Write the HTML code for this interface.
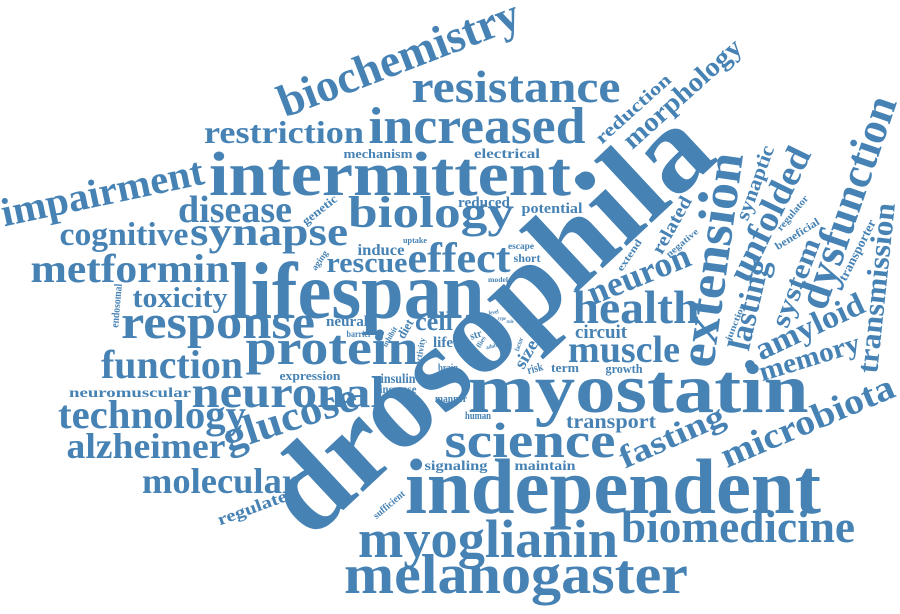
<!DOCTYPE html>
<html><head><meta charset="utf-8"><title>Word cloud</title>
<style>
html,body{margin:0;padding:0;background:#fff;}
svg{display:block;}
text{font-family:"Liberation Serif",serif;font-weight:bold;fill:#4682b4;}
</style></head>
<body>
<svg id="cloud" width="900" height="614" viewBox="0 0 900 614" xmlns="http://www.w3.org/2000/svg"></svg>
<script>
// word, baseline-center x, baseline-center y, font size, rotation, text length
const words = [
["drosophila",515,350,122,-43,560],
["myostatin",638,412,70,0,341],
["independent",613,513,78,0,416],
["lifespan",357,318,80,0,255],
["intermittent",390,195,62,0,362],
["melanogaster",516,593,56,0,344],
["myoglianin",488,557,54,0,260],
["biomedicine",738,542,46,0,234],
["science",530,457,50,0,171],
["protein",332,364,50,0,173],
["neuronal",288,407,44,0,193],
["response",218,338,48,0,194],
["increased",477,143,52,0,217],
["resistance",516,102,46,0,209],
["biochemistry",404,72,46,-21,255],
["restriction",284,143,32,0,160],
["impairment",105,205,40,-12,206],
["disease",235,222,38,0,114],
["biology",431,227,44,0,166],
["cognitive",124,245,33,0,129],
["synapse",269,245,40,0,158],
["metformin",130,282,40,0,199],
["rescue",367,272,29,0,81],
["effect",459,272,42,0,103],
["toxicity",180,307,28,0,95],
["function",172,378,40,0,142],
["technology",152,428,40,0,188],
["alzheimer",146,458,36,0,159],
["glucose",294,430,42,-18,139],
["molecular",220,493,36,0,156],
["neuromuscular",130,397,14,0,122],
["regulate",254,513,17,-20,73],
["health",636,323,47,0,127],
["neuron",643,285,35,-22,108],
["muscle",624,362,38,0,112],
["circuit",601,338,19,0,52],
["growth",624,373,13,0,37],
["term",565,372,13,0,28],
["transport",611,428,20,0,90],
["extension",728,262,52,-82,216],
["lasting",759,307,32,-77,92],
["unfolded",780,219,36,-64,145],
["dysfunction",861,207,45,-71,222],
["system",804,286,28,-69,93],
["amyloid",814,336,32,-25,117],
["memory",812,366,28,-17,104],
["transmission",886,289,30,-84,171],
["microbiota",812,432,36,-23,185],
["fasting",676,446,32,-24,112],
["morphology",688,100,27,-42,150],
["reduction",637,113,18,-42,95],
["synaptic",761,185,20,-70,78],
["transporter",861,252,13,-63,67],
["beneficial",799,237,11,-32,50],
["regulator",795,215,10,-50,43],
["junction",738,323,9,-68,40],
["related",677,228,19,-61,63],
["negative",684,245,9,-40,39],
["extend",632,257,10,-56,36],
["mechanism",378,158,13,0,69],
["electrical",507,158,14,0,66],
["reduced",484,207,15,0,52],
["potential",552,213,15,0,61],
["genetic",322,213,12,-38,41],
["uptake",415,243,8,0,24],
["induce",381,255,16,0,47],
["escape",521,249,9,0,26],
["short",527,262,12,0,27],
["aging",322,262,9,-55,22],
["model",498,282,7,0,20],
["endosomal",120,306,11,-85,44],
["neural",347,326,15,0,42],
["barrier",359,337,9,0,25],
["inhibit",392,338,8,-60,22],
["diet",409,331,13,-60,20],
["cell",434,330,26,0,38],
["life",443,347,15,0,20],
["activity",423,352,9,-80,28],
["str",477,338,11,-20,12],
["flies",483,343,7,-60,12],
["adult",492,348,6,-15,11],
["level",494,314,6,-10,10],
["type",502,320,5,0,8],
["rule",510,323,5,0,7],
["factor",521,345,7,-70,14],
["size",531,357,18,-60,30],
["risk",536,372,12,-15,16],
["brain",448,371,11,0,20],
["expression",310,380,13,0,61],
["insulin",398,383,14,0,35],
["increase",398,393,12,0,37],
["manner",451,402,11,0,32],
["human",478,419,10,0,26],
["signaling",456,470,14,0,63],
["maintain",545,470,14,0,61],
["sufficient",391,507,10,-40,38]
];
// stray dots seen in the cloud
const dots = [[581,180,6],[703,197,5],[750,365,5],[379,337,4]];

const svg = document.getElementById('cloud');
const NS = 'http://www.w3.org/2000/svg';
for (const w of words) {
  const t = document.createElementNS(NS, 'text');
  t.setAttribute('x', w[1]);
  t.setAttribute('y', w[2]);
  t.setAttribute('font-size', w[3]);
  t.setAttribute('text-anchor', 'middle');
  t.setAttribute('textLength', w[5]);
  t.setAttribute('lengthAdjust', 'spacingAndGlyphs');
  if (w[4]) t.setAttribute('transform', 'rotate(' + w[4] + ' ' + w[1] + ' ' + w[2] + ')');
  t.textContent = w[0];
  
  
  svg.appendChild(t);
}
for (const d of dots) {
  const c = document.createElementNS(NS, 'circle');
  c.setAttribute('cx', d[0]);
  c.setAttribute('cy', d[1]);
  c.setAttribute('r', d[2]);
  c.setAttribute('fill', '#4682b4');
  
  
  svg.appendChild(c);
}
</script>
</body></html>
